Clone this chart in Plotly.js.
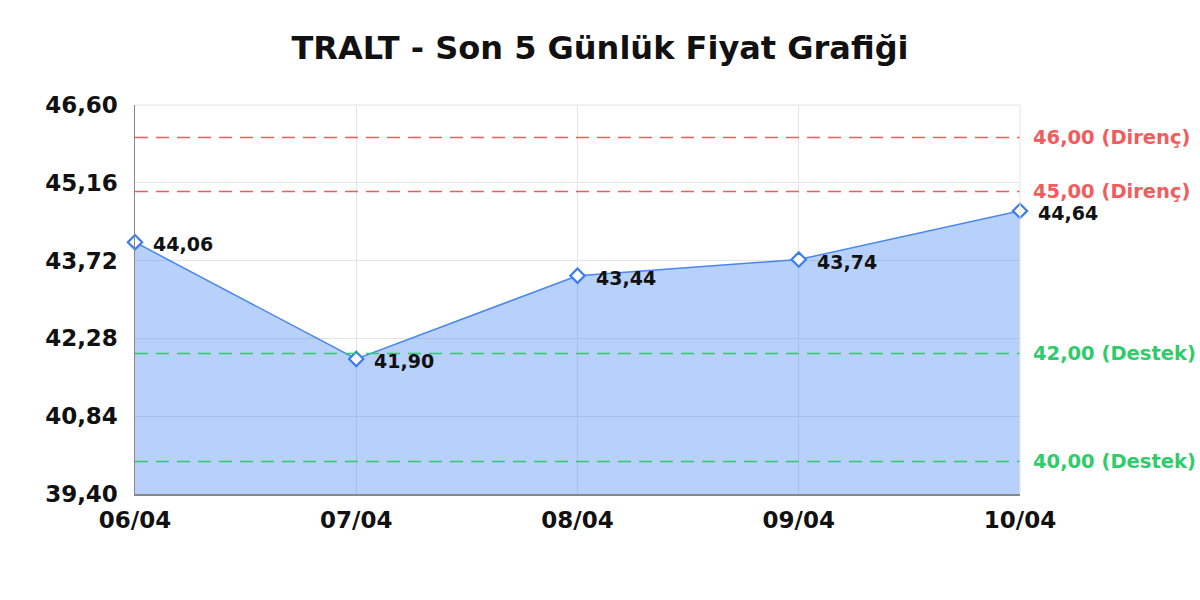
<!DOCTYPE html>
<html>
<head>
<meta charset="utf-8">
<script src="https://cdn.plot.ly/plotly-3.0.1.min.js"></script>
<style>
  html, body { margin: 0; padding: 0; background: #fff; }
  #chart { width: 1200px; height: 600px; }
</style>
</head>
<body>
<div id="chart"></div>
<script>
// Chart data
const days = ["06/04", "07/04", "08/04", "09/04", "10/04"];
const prices = [44.06, 41.90, 43.44, 43.74, 44.64];
const yTicks = [39.40, 40.84, 42.28, 43.72, 45.16, 46.60];
const resistance = [46.00, 45.00];
const support = [42.00, 40.00];

const fmt = v => v.toFixed(2).replace(".", ",");
const FONT = "DejaVu Sans";

const trace = {
  x: days,
  y: prices,
  type: "scatter",
  mode: "lines+markers",
  fill: "tozeroy",
  fillcolor: "rgba(66,133,244,0.38)",
  line: {color: "#4a86f0", width: 1.5},
  marker: {symbol: "diamond", size: 11, color: "#ffffff", line: {width: 2.2, color: "#3b7cf0"}},
  cliponaxis: false,
  hoverinfo: "skip"
};

const shapes = [];
const annotations = [];

// value labels beside each point
days.forEach((d, i) => {
  annotations.push({
    x: d, y: prices[i], xref: "x", yref: "y",
    xanchor: "left", yanchor: "middle", xshift: 16, yshift: -2,
    text: fmt(prices[i]), showarrow: false,
    font: {family: FONT, size: 19, color: "#111", weight: "bold"}
  });
});

function level(v, color, label) {
  shapes.push({
    type: "line", xref: "paper", x0: 0, x1: 1, yref: "y", y0: v, y1: v,
    line: {color: color, width: 1.5, dash: "13px,8px"}, layer: "above"
  });
  annotations.push({
    xref: "paper", x: 1, xanchor: "left", xshift: 11,
    yref: "y", y: v, yanchor: "middle",
    text: fmt(v) + " (" + label + ")", showarrow: false,
    font: {family: FONT, size: 19.5, color: color, weight: "bold"}
  });
}
resistance.forEach(v => level(v, "#f25c5c", "Direnç"));
support.forEach(v => level(v, "#2ecc6a", "Destek"));

const layout = {
  width: 1200,
  height: 600,
  paper_bgcolor: "#fff",
  plot_bgcolor: "#fff",
  margin: {l: 135, r: 180, t: 105, b: 106},
  showlegend: false,
  title: {
    text: "TRALT - Son 5 Günlük Fiyat Grafiği",
    x: 0.5, xanchor: "center", y: 0.92, yanchor: "middle",
    font: {family: FONT, size: 32, color: "#111", weight: "bold"}
  },
  xaxis: {
    type: "category",
    range: [0, days.length - 1],
    showgrid: true, gridcolor: "#e4e4e4", gridwidth: 1,
    showline: true, linecolor: "#888", linewidth: 1.5, mirror: false,
    zeroline: false,
    ticks: "", ticklen: 0, ticklabelstandoff: 5,
    tickfont: {family: FONT, size: 23, color: "#111", weight: "bold"}
  },
  yaxis: {
    range: [yTicks[0], yTicks[yTicks.length - 1]],
    tickvals: yTicks,
    ticktext: yTicks.map(fmt),
    showgrid: true, gridcolor: "#e4e4e4", gridwidth: 1,
    showline: true, linecolor: "#888", linewidth: 1.5,
    zeroline: false,
    ticks: "", ticklabelstandoff: 11,
    tickfont: {family: FONT, size: 23, color: "#111", weight: "bold"}
  },
  shapes: shapes.concat([
    {type: "line", xref: "paper", x0: 0, x1: 1, yref: "paper", y0: 1, y1: 1, line: {color: "#e4e4e4", width: 1}},
    {type: "line", xref: "paper", x0: 1, x1: 1, yref: "paper", y0: 0, y1: 1, line: {color: "#e4e4e4", width: 1}}
  ]),
  annotations: annotations
};

Plotly.newPlot("chart", [trace], layout, {displayModeBar: false, staticPlot: true});
</script>
</body>
</html>
